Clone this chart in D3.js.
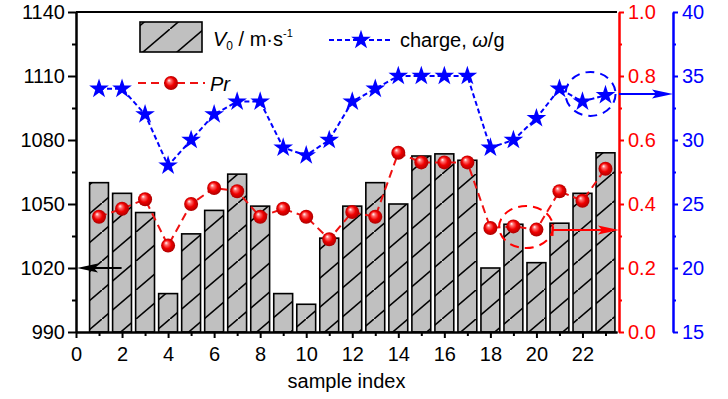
<!DOCTYPE html>
<html>
<head>
<meta charset="utf-8">
<script src="https://cdnjs.cloudflare.com/ajax/libs/d3/7.8.5/d3.min.js"></script>
<style>
  html, body { margin: 0; padding: 0; background: #fff; }
  svg { display: block; font-family: 'Liberation Sans', Arial, sans-serif; }
</style>
</head>
<body>
<div id="chart"></div>
<script>
// sample index (x axis)
var samples = [1, 2, 3, 4, 5, 6, 7, 8, 9, 10, 11, 12, 13, 14, 15, 16, 17, 18, 19, 20, 21, 22, 23];
// V0 / m·s-1, bars on the left axis
var velocity = [1060, 1055, 1046, 1008, 1036, 1047, 1064, 1049, 1008, 1003, 1034, 1049, 1060, 1050,
                1072.5, 1073.5, 1070.5, 1020, 1040.5, 1022.5, 1041, 1055, 1074];
// Pr, red axis
var prRatio = [0.36, 0.385, 0.415, 0.27, 0.40, 0.45, 0.44, 0.36, 0.385, 0.36, 0.29, 0.375, 0.36, 0.56,
               0.53, 0.53, 0.53, 0.325, 0.33, 0.32, 0.44, 0.41, 0.51];
// charge, w/g, blue axis
var charge = [34, 34, 32, 28, 30, 32, 33, 33, 29.4, 28.8, 30, 33, 34, 35, 35, 35, 35, 29.4, 30, 31.7,
              34, 33, 33.5];

var xTicks = [0, 2, 4, 6, 8, 10, 12, 14, 16, 18, 20, 22];
var xMinorTicks = [1, 3, 5, 7, 9, 11, 13, 15, 17, 19, 21, 23];
var velTicks = [990, 1020, 1050, 1080, 1110, 1140];
var velMinorTicks = [1005, 1035, 1065, 1095, 1125];
var prTicks = [0, 0.2, 0.4, 0.6, 0.8, 1.0];
var prMinorTicks = [0.1, 0.3, 0.5, 0.7, 0.9];
var chargeTicks = [15, 20, 25, 30, 35, 40];
var chargeMinorTicks = [17.5, 22.5, 27.5, 32.5, 37.5];

var RED = '#ff0000';
var BLUE = '#0000ff';

var width = 728, height = 399;
var margin = {top: 12, right: 111, bottom: 67, left: 76};
var plotRight = width - margin.right;
var plotBottom = height - margin.bottom;

var x = d3.scaleLinear().domain([0, 23.5]).range([margin.left, plotRight]);
var yV = d3.scaleLinear().domain([990, 1140]).range([plotBottom, margin.top]);
var yP = d3.scaleLinear().domain([0, 1]).range([plotBottom, margin.top]);
var yC = d3.scaleLinear().domain([15, 40]).range([plotBottom, margin.top]);

var rows = samples.map(function(s, i) {
  return {i: s, v: velocity[i], p: prRatio[i], c: charge[i]};
});

var svg = d3.select('#chart').append('svg')
  .attr('width', width)
  .attr('height', height);

svg.append('rect').attr('width', width).attr('height', height).attr('fill', '#fff');

var defs = svg.append('defs');

// hatch for the bars
var hatch = defs.append('pattern')
  .attr('id', 'hatch')
  .attr('patternUnits', 'userSpaceOnUse')
  .attr('width', 34)
  .attr('height', 29);
hatch.append('rect').attr('width', 34).attr('height', 29).attr('fill', '#c0c0c0');
hatch.append('path')
  .attr('d', 'M-4,32.4 L38,-3.4')
  .attr('stroke', '#000')
  .attr('stroke-width', 1.6);

// shiny red ball
var ball = defs.append('radialGradient')
  .attr('id', 'ball')
  .attr('cx', '50%').attr('cy', '50%').attr('r', '55%')
  .attr('fx', '35%').attr('fy', '30%');
ball.append('stop').attr('offset', '0%').attr('stop-color', '#ffffff');
ball.append('stop').attr('offset', '22%').attr('stop-color', '#ff7070');
ball.append('stop').attr('offset', '55%').attr('stop-color', '#f00000');
ball.append('stop').attr('offset', '100%').attr('stop-color', '#a00000');

var star = d3.symbol().type(d3.symbolStar).size(120);

// Bars
var barW = x(0.82) - x(0);
svg.append('g').selectAll('.bar')
  .data(rows)
.enter().append('rect')
  .attr('class', 'bar')
  .attr('x', function(d) { return x(d.i) - barW / 2; })
  .attr('y', function(d) { return yV(d.v); })
  .attr('width', barW)
  .attr('height', function(d) { return plotBottom - yV(d.v); })
  .attr('fill', 'url(#hatch)')
  .attr('stroke', '#000')
  .attr('stroke-width', 1.6);

// Axes
var styleAxis = function(g, color) {
  g.attr('font-family', null).attr('font-size', null);
  g.selectAll('.domain').attr('stroke', color).attr('stroke-width', 2);
  g.selectAll('.tick line').attr('stroke', color).attr('stroke-width', 2);
  g.selectAll('.tick text').attr('fill', color).style('font-size', '20px');
};

var minorAxis = function(axis, values, size) {
  return axis.tickValues(values).tickSize(size).tickSizeOuter(0).tickFormat('');
};

svg.append('g')
  .attr('transform', 'translate(0,' + plotBottom + ')')
  .call(minorAxis(d3.axisBottom(x), xMinorTicks, 4))
  .call(styleAxis, '#000');
svg.append('g')
  .attr('transform', 'translate(0,' + plotBottom + ')')
  .call(d3.axisBottom(x).tickValues(xTicks).tickSize(6).tickSizeOuter(0).tickPadding(9))
  .call(styleAxis, '#000');

svg.append('g')
  .attr('transform', 'translate(' + margin.left + ',0)')
  .call(minorAxis(d3.axisLeft(yV), velMinorTicks, 4))
  .call(styleAxis, '#000');
svg.append('g')
  .attr('transform', 'translate(' + margin.left + ',0)')
  .call(d3.axisLeft(yV).tickValues(velTicks).tickSize(8).tickSizeOuter(0).tickPadding(3).tickFormat(d3.format('d')))
  .call(styleAxis, '#000');

var redX = plotRight + 2;
svg.append('g')
  .attr('transform', 'translate(' + redX + ',0)')
  .call(minorAxis(d3.axisRight(yP), prMinorTicks, 3))
  .call(styleAxis, RED);
svg.append('g')
  .attr('transform', 'translate(' + redX + ',0)')
  .call(d3.axisRight(yP).tickValues(prTicks).tickSize(5).tickSizeOuter(0).tickPadding(4).tickFormat(d3.format('.1f')))
  .call(styleAxis, RED);

var blueX = 673;
svg.append('g')
  .attr('transform', 'translate(' + blueX + ',0)')
  .call(minorAxis(d3.axisRight(yC), chargeMinorTicks, 3))
  .call(styleAxis, BLUE);
svg.append('g')
  .attr('transform', 'translate(' + blueX + ',0)')
  .call(d3.axisRight(yC).tickValues(chargeTicks).tickSize(5).tickSizeOuter(0).tickPadding(4))
  .call(styleAxis, BLUE);

// top frame line
svg.append('line')
  .attr('x1', margin.left).attr('x2', plotRight)
  .attr('y1', margin.top).attr('y2', margin.top)
  .attr('stroke', '#000').attr('stroke-width', 2);

svg.append('text')
  .attr('x', (margin.left + plotRight) / 2)
  .attr('y', 388)
  .attr('text-anchor', 'middle')
  .style('font-size', '20px')
  .text('sample index');

// Charge line + stars
svg.append('path')
  .datum(rows)
  .attr('fill', 'none')
  .attr('stroke', BLUE)
  .attr('stroke-width', 2)
  .attr('stroke-dasharray', '5,3')
  .attr('d', d3.line().x(function(d) { return x(d.i); }).y(function(d) { return yC(d.c); }));

svg.append('g').selectAll('.star')
  .data(rows)
.enter().append('path')
  .attr('class', 'star')
  .attr('transform', function(d) { return 'translate(' + x(d.i) + ',' + yC(d.c) + ')'; })
  .attr('d', star)
  .attr('fill', BLUE);

// Pr line + balls
svg.append('path')
  .datum(rows)
  .attr('fill', 'none')
  .attr('stroke', '#ee1111')
  .attr('stroke-width', 2)
  .attr('stroke-dasharray', '8,5')
  .attr('d', d3.line().x(function(d) { return x(d.i); }).y(function(d) { return yP(d.p); }));

svg.append('g').selectAll('.ball')
  .data(rows)
.enter().append('circle')
  .attr('class', 'ball')
  .attr('cx', function(d) { return x(d.i); })
  .attr('cy', function(d) { return yP(d.p); })
  .attr('r', 7)
  .attr('fill', 'url(#ball)');

// Annotations: arrows pointing to the axis each series belongs to
var drawArrow = function(x1, y1, x2, color, cap) {
  var dir = x2 > x1 ? 1 : -1;
  var g = svg.append('g');
  g.append('line')
    .attr('x1', x1).attr('y1', y1).attr('x2', x2 - dir * 10).attr('y2', y1)
    .attr('stroke', color).attr('stroke-width', 2);
  g.append('path')
    .attr('d', 'M' + x2 + ',' + y1 +
               'L' + (x2 - dir * 21) + ',' + (y1 - 4.5) +
               'L' + (x2 - dir * 17) + ',' + y1 +
               'L' + (x2 - dir * 21) + ',' + (y1 + 4.5) + 'Z')
    .attr('fill', color);
  if (cap) {
    g.append('line')
      .attr('x1', x1).attr('x2', x1).attr('y1', y1 - 6).attr('y2', y1 + 6)
      .attr('stroke', color).attr('stroke-width', 2);
  }
};

drawArrow(x(1.98), yV(1020), margin.left + 1, '#000', false);

svg.append('ellipse')
  .attr('cx', x(19.55)).attr('cy', yP(0.328))
  .attr('rx', 27).attr('ry', 21)
  .attr('fill', 'none').attr('stroke', RED).attr('stroke-width', 2)
  .attr('stroke-dasharray', '9,6');
drawArrow(x(20.7), yP(0.319), redX, RED, true);

svg.append('ellipse')
  .attr('cx', x(22.35)).attr('cy', yC(33.6))
  .attr('rx', 25).attr('ry', 22)
  .attr('fill', 'none').attr('stroke', BLUE).attr('stroke-width', 2)
  .attr('stroke-dasharray', '9,6');
drawArrow(redX, yC(33.6), blueX, BLUE, false);

// Legend
var legend = svg.append('g').attr('class', 'legend');

legend.append('rect')
  .attr('x', 140).attr('y', 22).attr('width', 62).attr('height', 30)
  .attr('fill', 'url(#hatch)').attr('stroke', '#000').attr('stroke-width', 1.6);

var vText = legend.append('text').attr('x', 213).attr('y', 46).style('font-size', '20px');
vText.append('tspan').style('font-style', 'italic').text('V');
vText.append('tspan').attr('dy', 4).style('font-size', '12px').text('0');
vText.append('tspan').attr('dy', -4).text(' / m·s');
vText.append('tspan').attr('dy', -9).style('font-size', '11px').text('-1');

legend.append('line')
  .attr('x1', 329).attr('x2', 392).attr('y1', 40).attr('y2', 40)
  .attr('stroke', BLUE).attr('stroke-width', 2).attr('stroke-dasharray', '5,3');
legend.append('path')
  .attr('transform', 'translate(361,40)')
  .attr('d', star)
  .attr('fill', BLUE);
var cText = legend.append('text').attr('x', 400).attr('y', 47).style('font-size', '20px');
cText.append('tspan').text('charge, ');
cText.append('tspan').style('font-style', 'italic').text('ω');
cText.append('tspan').text('/g');

legend.append('line')
  .attr('x1', 138).attr('x2', 205).attr('y1', 83).attr('y2', 83)
  .attr('stroke', '#ee1111').attr('stroke-width', 2).attr('stroke-dasharray', '8,5');
legend.append('circle')
  .attr('cx', 171).attr('cy', 83).attr('r', 7)
  .attr('fill', 'url(#ball)');
legend.append('text')
  .attr('x', 210).attr('y', 91)
  .style('font-size', '20px')
  .style('font-style', 'italic')
  .text('Pr');
</script>
</body>
</html>
